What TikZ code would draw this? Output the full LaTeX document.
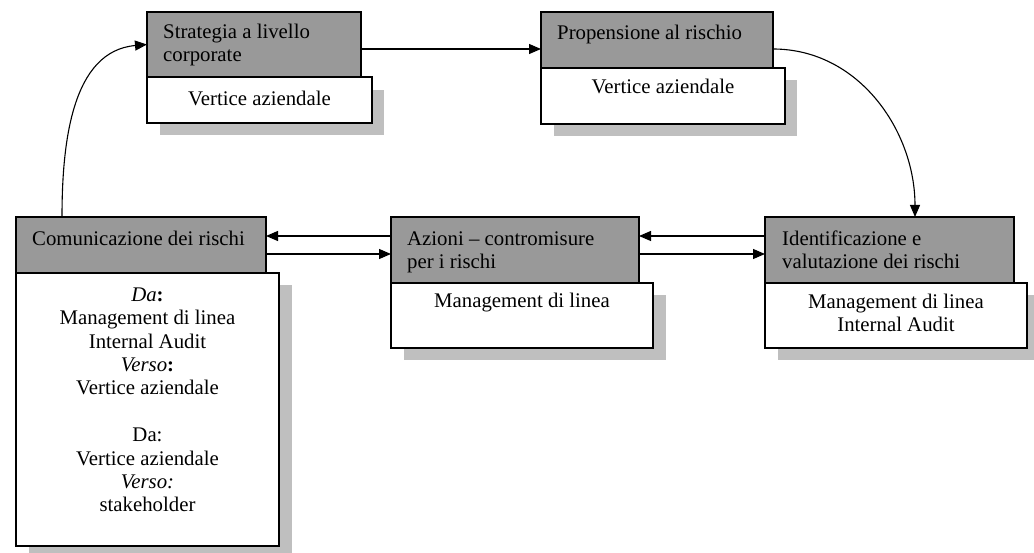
\documentclass[tikz,border=0pt]{standalone}
\usepackage{fontspec}
\setmainfont{Liberation Serif}
\usetikzlibrary{arrows.meta}
\newcommand{\tallrule}{\rule{0pt}{20pt}}
\begin{document}
\begin{tikzpicture}[x=1pt,y=-1pt,
  shadowbox/.style={fill=black!25, draw=none},
  hdr/.style={draw=black, fill=black!40, line width=1.1pt, anchor=north west, inner sep=0pt, outer sep=0pt},
  wbox/.style={draw=black, fill=white, line width=1.1pt, anchor=north west, inner sep=0pt, outer sep=0pt},
  htxt/.style={anchor=north west, inner sep=0pt, align=left, font=\fontsize{20.8}{23.5}\selectfont},
  wtxt/.style={anchor=north, inner sep=0pt, align=center, font=\fontsize{20.8}{23.4}\selectfont},
  arr/.style={line width=1.1pt, -{Triangle[length=12pt,width=10pt]}},
]
\useasboundingbox (0,0) rectangle (1034,553);
\clip (0,0) rectangle (1034,553);
% shadows
\fill[shadowbox] (160,90) rectangle (384,135);
\fill[shadowbox] (554,80) rectangle (797,136);
\fill[shadowbox] (29,285) rectangle (292,560);
\fill[shadowbox] (404,295) rectangle (666,360);
\fill[shadowbox] (778,295) rectangle (1040,360);
% white boxes
\node[wbox, minimum width=225pt, minimum height=46pt] (w1) at (147,77) {};
\node[wbox, minimum width=244pt, minimum height=56pt] (w2) at (541,68) {};
\node[wbox, minimum width=263pt, minimum height=273pt] (w3) at (16,273) {};
\node[wbox, minimum width=262pt, minimum height=65pt] (w4) at (391,283) {};
\node[wbox, minimum width=262pt, minimum height=65pt] (w5) at (765,283) {};
% headers
\node[hdr, minimum width=214pt, minimum height=65pt] (h1) at (147,12) {};
\node[hdr, minimum width=232pt, minimum height=56pt] (h2) at (541,12) {};
\node[hdr, minimum width=250pt, minimum height=56pt] (h3) at (16,217) {};
\node[hdr, minimum width=248pt, minimum height=66pt] (h4) at (391,217) {};
\node[hdr, minimum width=249pt, minimum height=66pt] (h5) at (765,217) {};
% header texts
\node[htxt] (t1) at (163,18) {\tallrule Strategia a livello\\corporate};
\node[htxt] (t2) at (557,19) {\tallrule Propensione al rischio};
\node[htxt] (t3) at (32,225) {\tallrule Comunicazione dei rischi};
\node[htxt] (t4) at (407,225) {\tallrule Azioni – contromisure\\per i rischi};
\node[htxt] (t5) at (782,225) {\tallrule Identificazione e\\valutazione dei rischi};
% white texts
\node[wtxt] (u1) at (259.5,85) {\tallrule Vertice aziendale};
\node[wtxt] (u2) at (663,73) {\tallrule Vertice aziendale};
\node[wtxt] (u3) at (147.5,281) {\tallrule\textit{Da}\textbf{:}\\Management di linea\\Internal Audit\\\textit{Verso}\textbf{:}\\Vertice aziendale\\[23.4pt]Da:\\Vertice aziendale\\\textit{Verso:}\\stakeholder};
\node[wtxt] (u4) at (522,287) {\tallrule Management di linea};
\node[wtxt] (u5) at (896,288) {\tallrule Management di linea\\Internal Audit};
% connectors
\draw[arr] ([yshift=-4.5pt]h1.east) -- ([yshift=-9pt]h2.west);
\draw[arr] ([yshift=-9pt]h2.east) to[out=0,in=90] ([xshift=25.5pt]h5.north);
\draw[arr] ([xshift=-79pt]h3.north) to[out=90,in=185] (h1.west);
\draw[arr] ([yshift=14pt]h4.west) -- ([yshift=9pt]h3.east);
\draw[arr] ([yshift=-9pt]h3.east) -- ([yshift=-4pt]h4.west);
\draw[arr] ([yshift=14pt]h5.west) -- ([yshift=14pt]h4.east);
\draw[arr] ([yshift=-4pt]h4.east) -- ([yshift=-4pt]h5.west);
\end{tikzpicture}
\end{document}
